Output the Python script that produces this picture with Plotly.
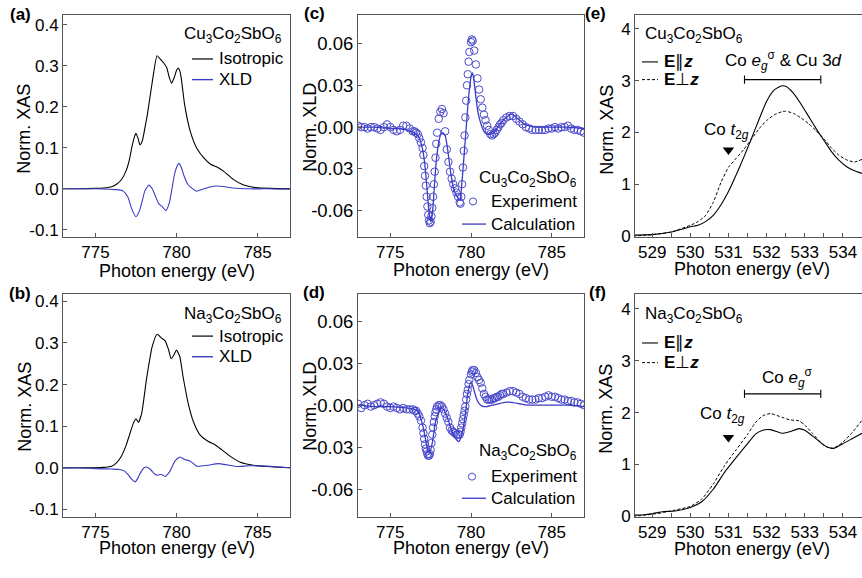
import plotly.graph_objects as go

W, H = 862, 578
FONT = "Liberation Sans, Arial, Helvetica, sans-serif"
BLUE = "#3b3bc4"
MBLUE = "#4a4acc"
AXC = "#555555"

# ---------------- data ----------------
# (a) Cu3Co2SbO6 : isotropic XAS and XLD (Co L3)
E_a_iso = [773.0, 774.0, 775.0, 775.5, 776.0, 776.3, 776.6, 776.9, 777.1, 777.25, 777.4, 777.5, 777.62, 777.75,
           777.9, 778.05, 778.2, 778.5, 778.8, 779.0, 779.2, 779.4, 779.55, 779.7, 779.85, 780.0, 780.1, 780.2,
           780.3, 780.5, 780.85, 781.25, 781.7, 782.1, 782.5, 782.9, 783.5, 784.1, 784.9, 785.8, 787.0]
a_iso = [0.0, 0.0, 0.001, 0.002, 0.005, 0.011, 0.022, 0.045, 0.072, 0.102, 0.126, 0.135, 0.124, 0.107,
         0.118, 0.148, 0.180, 0.259, 0.324, 0.316, 0.307, 0.295, 0.272, 0.257, 0.270, 0.288, 0.294, 0.288,
         0.268, 0.205, 0.140, 0.099, 0.075, 0.060, 0.053, 0.043, 0.023, 0.010, 0.003, 0.001, 0.0]
E_a_xld = [773.0, 775.0, 776.3, 776.7, 777.0, 777.25, 777.5, 777.7, 777.85, 778.05, 778.3, 778.5, 778.7, 778.9,
           779.1, 779.35, 779.55, 779.7, 779.85, 780.0, 780.15, 780.3, 780.45, 780.7, 781.0, 781.25, 781.6, 782.0,
           782.5, 783.0, 783.5, 784.5, 785.5, 787.0]
a_xld = [0.0, 0.0, -0.002, -0.005, -0.020, -0.050, -0.068, -0.055, -0.035, -0.005, 0.009, 0.0, -0.018, -0.036,
         -0.043, -0.053, -0.035, -0.005, 0.030, 0.052, 0.062, 0.052, 0.033, 0.011, 0.0, -0.006, -0.001, 0.004,
         0.007, 0.005, 0.002, 0.0, 0.0, -0.001]

# (b) Na3Co2SbO6
E_b_iso = [773.0, 775.0, 775.5, 776.0, 776.3, 776.6, 776.9, 777.1, 777.35, 777.5, 777.65, 777.85, 778.15, 778.5,
           778.8, 779.1, 779.3, 779.5, 779.67, 779.85, 780.0, 780.2, 780.4, 780.75, 781.05, 781.45, 781.97, 782.4,
           782.8, 783.3, 783.9, 784.75, 785.6, 786.5, 787.0]
b_iso = [0.0, 0.0, 0.001, 0.004, 0.012, 0.028, 0.055, 0.079, 0.108, 0.118, 0.109, 0.130, 0.213, 0.291,
         0.321, 0.311, 0.305, 0.285, 0.262, 0.272, 0.283, 0.268, 0.220, 0.150, 0.110, 0.079, 0.063, 0.055,
         0.043, 0.028, 0.014, 0.006, 0.003, 0.001, 0.0]
E_b_xld = [773.0, 774.0, 775.0, 776.0, 776.5, 776.8, 777.0, 777.25, 777.45, 777.6, 777.75, 778.0, 778.15, 778.4,
           778.65, 778.85, 779.0, 779.15, 779.3, 779.45, 779.6, 779.9, 780.2, 780.5, 780.85, 781.25, 781.9, 782.6,
           783.3, 783.7, 784.5, 785.6, 786.3, 787.0]
b_xld = [-0.001, 0.0, -0.002, -0.003, -0.004, -0.008, -0.016, -0.028, -0.034, -0.026, -0.014, 0.0, 0.002, -0.004,
         -0.015, -0.018, -0.016, -0.017, -0.021, -0.016, -0.008, 0.016, 0.026, 0.020, 0.016, 0.004, 0.006, 0.010,
         0.006, 0.003, 0.005, 0.004, 0.002, 0.0]

# (c),(d) experimental XLD (open circles) on a common energy grid
E_exp = ([773.0, 773.2, 773.4, 773.6, 773.8, 774.0, 774.2, 774.4, 774.6, 774.8, 775.0, 775.2, 775.4, 775.6,
          775.8, 776.0, 776.2, 776.4]
         + [776.5, 776.6, 776.7, 776.8, 776.9]
         + [777.0, 777.05, 777.1, 777.15, 777.2, 777.25, 777.3, 777.35, 777.4, 777.45, 777.5, 777.55, 777.6,
            777.65, 777.7, 777.75, 777.8, 777.85]
         + [777.9, 778.0, 778.1, 778.2, 778.3, 778.4, 778.5, 778.6, 778.7, 778.8, 778.9, 779.0, 779.1, 779.2, 779.3]
         + [779.35, 779.4, 779.45, 779.5, 779.55, 779.6, 779.65, 779.7, 779.75, 779.8, 779.85, 779.9]
         + [780.0, 780.05, 780.1, 780.2, 780.3, 780.4, 780.5, 780.6, 780.7, 780.8, 780.9, 781.0, 781.1, 781.2,
            781.3, 781.4, 781.5, 781.6, 781.7, 781.8, 781.9, 782.0]
         + [782.2, 782.4, 782.6, 782.8, 783.0, 783.2, 783.4, 783.6, 783.8, 784.0, 784.2, 784.4, 784.6, 784.8,
            785.0, 785.2, 785.4, 785.6, 785.8, 786.0, 786.2, 786.4, 786.6, 786.8, 787.0])
c_exp = ([0.001, 0.000, 0.000, -0.001, 0.000, 0.000, -0.001, -0.002, 0.000, 0.002, 0.000, -0.002, -0.003, -0.002,
          0.001, 0.001, -0.001, -0.003]
         + [-0.003, -0.004, -0.005, -0.008, -0.011]
         + [-0.015, -0.020, -0.028, -0.035, -0.042, -0.050, -0.057, -0.063, -0.067, -0.069, -0.068, -0.064, -0.058,
            -0.050, -0.041, -0.032, -0.022, -0.012]
         + [-0.004, 0.006, 0.011, 0.013, 0.010, -0.003, -0.016, -0.025, -0.032, -0.037, -0.041, -0.044, -0.047,
            -0.050, -0.054]
         + [-0.055, -0.050, -0.041, -0.029, -0.017, -0.006, 0.007, 0.019, 0.030, 0.038, 0.047, 0.054]
         + [0.061, 0.063, 0.062, 0.055, 0.045, 0.035, 0.027, 0.020, 0.014, 0.009, 0.005, 0.001, -0.002, -0.005,
            -0.006, -0.005, -0.004, -0.002, 0.000, 0.002, 0.003, 0.005]
         + [0.007, 0.008, 0.008, 0.006, 0.004, 0.002, 0.000, -0.001, -0.002, -0.002, -0.002, -0.002, -0.002, -0.001,
            -0.001, 0.000, -0.001, 0.000, 0.000, 0.001, -0.001, -0.002, -0.002, -0.003, -0.004])
d_exp = ([0.001, -0.002, 0.000, 0.001, -0.001, 0.000, 0.001, 0.002, 0.001, -0.001, -0.002, -0.001, -0.002, -0.003,
          -0.002, -0.003, -0.003, -0.003]
         + [-0.004, -0.004, -0.006, -0.008, -0.011]
         + [-0.016, -0.020, -0.024, -0.028, -0.031, -0.033, -0.035, -0.036, -0.036, -0.035, -0.032, -0.027, -0.021,
            -0.016, -0.012, -0.008, -0.005, -0.003]
         + [-0.001, 0.000, 0.000, -0.001, -0.003, -0.006, -0.009, -0.012, -0.016, -0.018, -0.019, -0.020, -0.021,
            -0.021, -0.021]
         + [-0.019, -0.016, -0.013, -0.010, -0.007, -0.004, -0.001, 0.004, 0.008, 0.011, 0.015, 0.018]
         + [0.022, 0.024, 0.025, 0.025, 0.023, 0.020, 0.018, 0.016, 0.012, 0.008, 0.006, 0.004, 0.004, 0.004,
            0.004, 0.005, 0.005, 0.006, 0.006, 0.007, 0.008, 0.008]
         + [0.009, 0.010, 0.010, 0.009, 0.008, 0.006, 0.005, 0.004, 0.004, 0.004, 0.005, 0.005, 0.006, 0.007,
            0.006, 0.006, 0.005, 0.004, 0.004, 0.003, 0.003, 0.002, 0.002, 0.001, 0.000])

# (c),(d) calculated XLD
E_c_calc = [773.0, 774.0, 775.0, 775.5, 776.0, 776.3, 776.6, 776.8, 777.0, 777.1, 777.2, 777.3, 777.4, 777.5,
            777.6, 777.7, 777.8, 777.9, 778.0, 778.1, 778.25, 778.4, 778.5, 778.6, 778.7, 778.8, 778.9, 779.0,
            779.1, 779.2, 779.32, 779.4, 779.5, 779.6, 779.7, 779.8, 779.9, 780.0, 780.1, 780.2, 780.3, 780.4,
            780.5, 780.6, 780.8, 781.0, 781.2, 781.4, 781.6, 781.8, 782.0, 782.2, 782.4, 782.6, 782.8, 783.0,
            783.3, 783.6, 784.0, 784.5, 785.0, 786.0, 787.0]
c_calc = [0.0, 0.0, -0.001, -0.001, -0.002, -0.003, -0.005, -0.008, -0.016, -0.023, -0.034, -0.048, -0.061, -0.068,
          -0.063, -0.048, -0.031, -0.019, -0.011, -0.006, -0.004, -0.006, -0.012, -0.020, -0.029, -0.037, -0.043,
          -0.047, -0.049, -0.051, -0.052, -0.045, -0.031, -0.016, -0.001, 0.015, 0.027, 0.036, 0.039, 0.032, 0.022,
          0.013, 0.007, 0.003, -0.003, -0.005, -0.005, -0.004, -0.001, 0.002, 0.005, 0.007, 0.009, 0.009, 0.007,
          0.005, 0.002, 0.001, 0.0, 0.0, 0.0, 0.0, -0.001]
E_d_calc = [773.0, 774.0, 775.0, 776.0, 776.5, 776.7, 777.0, 777.15, 777.3, 777.47, 777.6, 777.8, 778.0, 778.2,
            778.4, 778.6, 778.8, 779.0, 779.25, 779.4, 779.6, 779.8, 779.98, 780.1, 780.25, 780.4, 780.6, 780.8,
            781.0, 781.3, 781.7, 782.1, 782.5, 783.0, 783.5, 784.0, 785.0, 786.0, 787.0]
d_calc = [0.0, -0.001, -0.001, -0.002, -0.003, -0.004, -0.014, -0.022, -0.031, -0.033, -0.027, -0.012, -0.005,
          -0.002, -0.005, -0.011, -0.018, -0.023, -0.026, -0.022, -0.011, 0.008, 0.016, 0.014, 0.008, 0.003, 0.000,
          -0.001, -0.001, 0.000, 0.001, 0.002, 0.002, 0.001, 0.000, 0.000, 0.000, 0.000, -0.001]

# (e),(f) O K-edge XAS, E parallel / perpendicular to z
E_e = [528.5, 529.0, 529.5, 530.0, 530.2, 530.4, 530.6, 530.8, 531.0, 531.2, 531.4, 531.6, 531.8, 532.0,
       532.2, 532.4, 532.5, 532.7, 532.9, 533.1, 533.3, 533.5, 533.7, 533.9, 534.1, 534.3, 534.5]
e_par = [0.02, 0.03, 0.08, 0.18, 0.21, 0.28, 0.40, 0.60, 0.86, 1.18, 1.52, 1.88, 2.25, 2.60,
         2.82, 2.90, 2.89, 2.76, 2.55, 2.31, 2.07, 1.85, 1.63, 1.46, 1.34, 1.26, 1.21]
e_perp = [0.00, 0.03, 0.08, 0.21, 0.28, 0.40, 0.65, 1.03, 1.33, 1.50, 1.67, 1.87, 2.07, 2.23,
          2.34, 2.40, 2.41, 2.37, 2.28, 2.17, 2.03, 1.88, 1.70, 1.56, 1.47, 1.43, 1.48]
E_f = [528.5, 528.8, 529.0, 529.3, 529.6, 530.0, 530.3, 530.6, 530.9, 531.2, 531.5, 531.7, 531.9, 532.1,
       532.4, 532.6, 532.85, 533.0, 533.2, 533.45, 533.6, 533.75, 534.0, 534.25, 534.5]
f_par = [0.02, 0.03, 0.05, 0.09, 0.10, 0.17, 0.28, 0.52, 0.85, 1.13, 1.40, 1.58, 1.66, 1.67,
         1.60, 1.63, 1.69, 1.66, 1.55, 1.40, 1.33, 1.31, 1.40, 1.50, 1.60]
f_perp = [0.00, 0.02, 0.04, 0.07, 0.12, 0.19, 0.33, 0.62, 0.98, 1.28, 1.58, 1.80, 1.94, 1.98,
          1.91, 1.86, 1.84, 1.76, 1.60, 1.40, 1.33, 1.31, 1.43, 1.62, 1.85]

# annotation anchors (data units)
t2g_e_x, t2g_e_y = [531.0], [1.66]
t2g_f_x, t2g_f_y = [531.0], [1.52]
eg_span = [531.42, 533.42]
eg_level_e, eg_level_f = 3.02, 2.36

# ticks
xt_L = [775, 780, 785]
xt_L_text = ["775", "780", "785"]
yt_ab = [-0.1, 0.0, 0.1, 0.2, 0.3, 0.4]
yt_ab_text = ["-0.1", "0.0", "0.1", "0.2", "0.3", "0.4"]
yt_cd = [-0.06, -0.03, 0.0, 0.03, 0.06]
yt_cd_text = ["-0.06", "-0.03", "0.00", "0.03", "0.06"]
xt_O = [529, 530, 531, 532, 533, 534]
xt_O_text = ["529", "530", "531", "532", "533", "534"]
xt_O_minor = [528.5, 529.5, 530.5, 531.5, 532.5, 533.5, 534.5]
yt_ef = [0, 1, 2, 3, 4]
yt_ef_text = ["0", "1", "2", "3", "4"]

for xs, ys in [(E_a_iso, a_iso), (E_a_xld, a_xld), (E_b_iso, b_iso), (E_b_xld, b_xld), (E_exp, c_exp),
               (E_exp, d_exp), (E_c_calc, c_calc), (E_d_calc, d_calc), (E_e, e_par), (E_e, e_perp),
               (E_f, f_par), (E_f, f_perp)]:
    assert len(xs) == len(ys), (len(xs), len(ys))

# ---------------- geometry (pixels) ----------------
def X(px):
    return px / W


def Y(py):
    return 1 - py / H


COLS = {"L": (63, 290), "M": (358, 584), "R": (635, 862)}
ROWS = {"T": (14, 240), "B": (298, 525)}

fig = go.Figure()


def line(xs, ys, ax, color, width=1.1, dash=None, spline=True):
    d = dict(color=color, width=width)
    if dash:
        d["dash"] = dash
    if spline:
        d["shape"] = "spline"
        d["smoothing"] = 0.5
    fig.add_trace(go.Scatter(x=xs, y=ys, mode="lines", line=d, xaxis="x" + ax, yaxis="y" + ax,
                             showlegend=False, hoverinfo="skip"))


# (a)
line(E_a_iso, a_iso, "", "black")
line(E_a_xld, a_xld, "", BLUE)
# (b)
line(E_b_iso, b_iso, "2", "black")
line(E_b_xld, b_xld, "2", BLUE)
# (c)
fig.add_trace(go.Scatter(x=E_exp, y=c_exp, mode="markers", xaxis="x3", yaxis="y3", showlegend=False,
                         marker=dict(symbol="circle-open", size=7.5, color=MBLUE, line=dict(width=1))))
line(E_c_calc, c_calc, "3", BLUE, width=1.3)
# (d)
fig.add_trace(go.Scatter(x=E_exp, y=d_exp, mode="markers", xaxis="x4", yaxis="y4", showlegend=False,
                         marker=dict(symbol="circle-open", size=7.5, color=MBLUE, line=dict(width=1))))
line(E_d_calc, d_calc, "4", BLUE, width=1.3)
# (e)
line(E_e, e_par, "5", "black", width=1.1)
line(E_e, e_perp, "5", "black", width=1.0, dash="3px,2px")
fig.add_trace(go.Scatter(x=t2g_e_x, y=t2g_e_y, mode="markers", xaxis="x5", yaxis="y5", showlegend=False,
                         marker=dict(symbol="triangle-down", size=10, color="black")))
# (f)
line(E_f, f_par, "6", "black", width=1.1)
line(E_f, f_perp, "6", "black", width=1.0, dash="3px,2px")
fig.add_trace(go.Scatter(x=t2g_f_x, y=t2g_f_y, mode="markers", xaxis="x6", yaxis="y6", showlegend=False,
                         marker=dict(symbol="triangle-down", size=10, color="black")))


def tickfont(size=17):
    return dict(family=FONT, size=size, color="black")


def axis(dom, rng, anchor, tv, tt, mirror=True, minor=None, fsize=17):
    d = dict(domain=dom, range=rng, anchor=anchor, showline=True, linecolor=AXC, linewidth=1, mirror=mirror,
             ticks="inside", ticklen=4, tickwidth=1, tickcolor=AXC, tickmode="array", tickvals=tv, ticktext=tt,
             tickfont=tickfont(fsize), showgrid=False, zeroline=False, fixedrange=True)
    if minor is not None:
        d["minor"] = dict(tickmode="array", tickvals=minor, ticks="inside", ticklen=4, tickcolor=AXC)
    return d


def xdom(c):
    return [X(COLS[c][0]), X(COLS[c][1])]


def ydom(r):
    return [Y(ROWS[r][1]), Y(ROWS[r][0])]


layout_axes = dict(
    xaxis=axis(xdom("L"), [773, 787], "y", xt_L, xt_L_text),
    yaxis=axis(ydom("T"), [-0.117, 0.424], "x", yt_ab, yt_ab_text),
    xaxis2=axis(xdom("L"), [773, 787], "y2", xt_L, xt_L_text),
    yaxis2=axis(ydom("B"), [-0.118, 0.418], "x2", yt_ab, yt_ab_text),
    xaxis3=axis(xdom("M"), [773, 787], "y3", xt_L, xt_L_text),
    yaxis3=axis(ydom("T"), [-0.0788, 0.0807], "x3", yt_cd, yt_cd_text, fsize=18.5),
    xaxis4=axis(xdom("M"), [773, 787], "y4", xt_L, xt_L_text),
    yaxis4=axis(ydom("B"), [-0.0797, 0.0794], "x4", yt_cd, yt_cd_text, fsize=18.5),
    xaxis5=axis(xdom("R"), [528.55, 534.5], "y5", xt_O, xt_O_text, minor=xt_O_minor),
    yaxis5=axis(ydom("T"), [-0.013, 4.27], "x5", yt_ef, yt_ef_text, mirror=False),
    xaxis6=axis(xdom("R"), [528.55, 534.5], "y6", xt_O, xt_O_text, minor=xt_O_minor),
    yaxis6=axis(ydom("B"), [-0.013, 4.29], "x6", yt_ef, yt_ef_text, mirror=False),
)

ann = []


def text(t, x, y, size=17, xa="center", ya="middle", angle=0, xref="paper", yref="paper"):
    ann.append(dict(text=t, x=x, y=y, xref=xref, yref=yref, xanchor=xa, yanchor=ya, textangle=angle,
                    showarrow=False, font=dict(family=FONT, size=size, color="black")))


shapes = []


def seg(x0, y0, x1, y1, color="black", width=1.1, dash=None, xref="paper", yref="paper"):
    ln = dict(color=color, width=width)
    if dash:
        ln["dash"] = dash
    shapes.append(dict(type="line", x0=x0, y0=y0, x1=x1, y1=y1, xref=xref, yref=yref, line=ln))


# panel labels
for lab, px, py in [("(a)", 33, 14), ("(b)", 33, 298), ("(c)", 327, 13), ("(d)", 327, 297),
                    ("(e)", 608, 13), ("(f)", 608, 297)]:
    text("<b>%s</b>" % lab, X(px), Y(py), size=17, xa="right")

# axis titles
for cx, cy in [(24, 130), (25, 413), (607, 131), (606, 415)]:
    text("Norm. XAS", X(cx), Y(cy), size=18, angle=-90)
for cx, cy in [(310, 129), (310, 413)]:
    text("Norm. XLD", X(cx), Y(cy), size=18, angle=-90)
for cx, cy in [(177, 275), (177, 557), (471, 274), (471, 557), (752, 273), (752, 558)]:
    text("Photon energy (eV)", X(cx), Y(cy), size=18)

CU = "Cu<sub>3</sub>Co<sub>2</sub>SbO<sub>6</sub>"
NA = "Na<sub>3</sub>Co<sub>2</sub>SbO<sub>6</sub>"

# legends (a),(b)
for name, ty, y1, y2 in [(CU, 35, 59, 80), (NA, 320, 341, 362)]:
    text(name, X(284), Y(ty), xa="right")
    seg(X(192), Y(y1), X(213), Y(y1), "black", 1.2)
    text("Isotropic", X(217), Y(y1), xa="left")
    seg(X(192), Y(y2), X(213), Y(y2), BLUE, 1.4)
    text("XLD", X(217), Y(y2), xa="left")

# legends (c),(d)
for name, ty, y1, y2, cx in [(CU, 181, 204, 227, 473), (NA, 459, 484, 506, 472)]:
    text(name, X(579), Y(ty), xa="right")
    r = 3.6
    shapes.append(dict(type="circle", xref="paper", yref="paper", x0=X(cx - r), x1=X(cx + r),
                       y0=Y(y1 + r), y1=Y(y1 - r), line=dict(color=MBLUE, width=1)))
    text("Experiment", X(489), Y(y1), xa="left")
    seg(X(462), Y(y2), X(486), Y(y2), BLUE, 1.3)
    text("Calculation", X(489), Y(y2), xa="left")

# legends (e),(f)
PAR = "<b>E</b>∥<b><i>z</i></b>"
PERP = "<b>E</b>⊥<b><i>z</i></b>"
for name, ty, y1, y2 in [(CU, 35, 62, 80), (NA, 320, 348, 368)]:
    text(name, X(643), Y(ty), xa="left")
    seg(X(642), Y(y1), X(658), Y(y1), "black", 1.1)
    text(PAR, X(662), Y(y1), xa="left")
    seg(X(642), Y(y2), X(658), Y(y2), "black", 1.0, dash="3px,2px")
    text(PERP, X(662), Y(y2), xa="left")

# (e),(f) annotations in data coordinates
text("Co <i>e</i><sub><i>g</i></sub><sup>σ</sup> &amp; Cu 3<i>d</i>", 532.45, 3.38, xref="x5", yref="y5")
text("Co <i>t</i><sub>2<i>g</i></sub>", 530.95, 2.02, xref="x5", yref="y5")
text("Co <i>e</i><sub><i>g</i></sub><sup>σ</sup>", 532.55, 2.67, xref="x6", yref="y6")
text("Co <i>t</i><sub>2<i>g</i></sub>", 530.85, 1.95, xref="x6", yref="y6")
for ax, lev in [("5", eg_level_e), ("6", eg_level_f)]:
    seg(eg_span[0], lev, eg_span[1], lev, "black", 1.1, xref="x" + ax, yref="y" + ax)
    for xe in eg_span:
        seg(xe, lev - 0.08, xe, lev + 0.08, "black", 1.1, xref="x" + ax, yref="y" + ax)

fig.update_layout(
    width=W, height=H, autosize=False, margin=dict(l=0, r=0, t=0, b=0, pad=0),
    paper_bgcolor="white", plot_bgcolor="white", showlegend=False,
    font=dict(family=FONT, size=17, color="black"),
    annotations=ann, shapes=shapes, **layout_axes,
)

fig.write_html("out.html", config={"displayModeBar": False})
